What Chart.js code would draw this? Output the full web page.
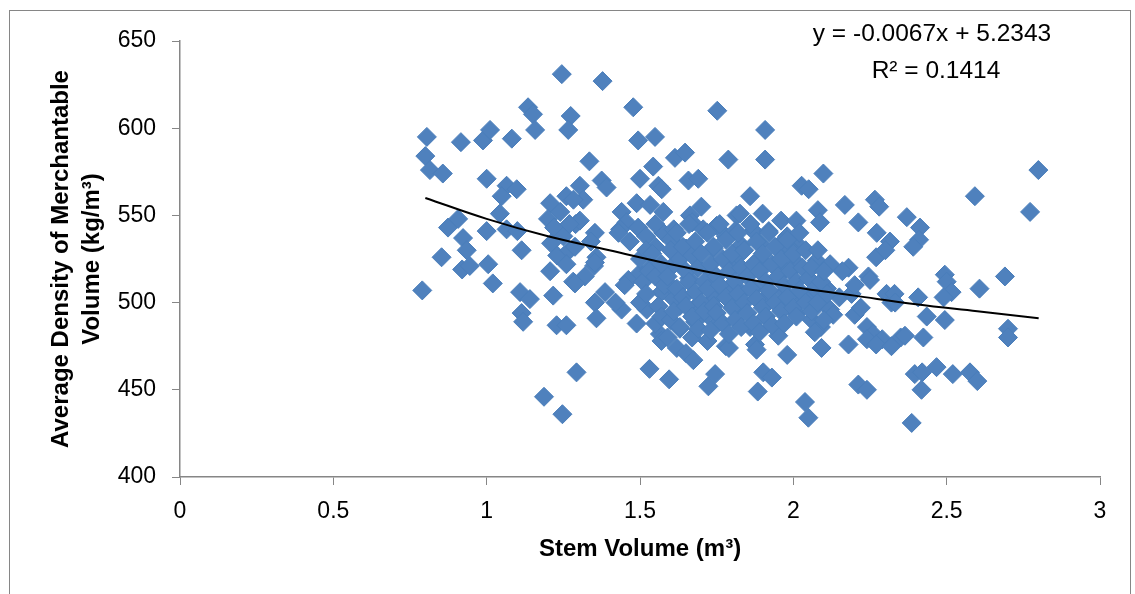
<!DOCTYPE html>
<html>
<head>
<meta charset="utf-8">
<script src="https://cdn.jsdelivr.net/npm/chart.js@4"></script>
<style>
  body { margin: 0; background: #fff; }
  #wrap { width: 1135px; height: 594px; }
</style>
</head>
<body>
<div id="wrap"><canvas id="scatterChart"></canvas></div>
<script>
// stem volume (m3) for each tree
const stemVolume = [
  0.79, 0.805, 0.80, 0.815, 0.857, 0.853, 0.874, 0.907, 0.916, 0.923, 0.935, 0.92, 0.945,
  0.988, 1.011, 1.082, 1.00, 1.065, 1.098, 1.049, 1.043, 1.00, 1.065, 1.10, 1.114, 1.005,
  1.02, 1.109, 1.141, 1.114, 1.119, 1.135, 1.151, 1.158, 1.187, 1.247, 1.245, 1.274, 1.266,
  1.207, 1.217, 1.228, 1.26, 1.282, 1.293, 1.207, 1.26, 1.20, 1.22, 1.24, 1.25, 1.21, 1.23,
  1.27, 1.29, 1.26,
  1.378, 1.478, 1.752, 1.494, 1.549, 1.788, 1.335, 1.614, 1.647, 1.543, 1.50, 1.56, 1.571,
  1.658, 1.69, 1.375, 1.391, 1.304, 1.315, 1.283, 1.489, 1.533, 1.576, 1.44, 1.456, 1.70,
  1.663, 1.67, 1.815, 1.304, 1.27, 1.353, 1.34, 1.435, 1.494, 1.52, 1.576, 1.61, 1.60, 1.706,
  1.75, 1.78, 1.467, 1.55, 1.288, 1.358, 1.35, 1.65, 1.74, 1.815,
  1.353, 1.32, 1.288, 1.386, 1.353, 1.358, 1.44, 1.462, 1.50, 1.53, 1.489, 1.522, 1.565,
  1.57, 1.57, 1.61, 1.63, 1.62, 1.65, 1.674, 1.531, 1.595, 1.723, 1.745, 1.72, 1.78, 1.72,
  1.76, 1.68, 1.63, 1.80, 1.75, 1.60, 1.66, 1.73, 1.80, 1.74, 1.69, 1.45, 1.42, 1.43,
  1.908, 1.908, 2.098, 2.027, 2.05, 1.859, 2.168, 2.266, 2.28, 2.08, 2.087, 2.212, 2.272,
  2.315, 2.37, 1.826, 1.90, 1.96, 2.01, 1.81, 1.87, 1.92, 1.98, 2.01, 1.96, 1.89, 1.83, 1.82,
  1.89, 1.97, 1.99, 2.076, 2.12, 2.18,
  1.88, 1.96, 2.01, 2.245, 2.304, 2.32, 1.83, 1.87, 1.91, 1.97, 2.02, 2.06, 2.11, 2.15, 2.19,
  1.81, 1.859, 1.91, 1.97, 2.01, 2.06, 2.09, 2.12, 2.13, 2.20, 2.24, 2.26, 2.29, 2.24, 1.875,
  1.88, 1.951, 1.98, 2.092, 2.18, 1.902, 1.93, 1.884, 2.212, 2.24, 2.038, 2.049, 1.79,
  2.16, 2.20, 2.22, 2.27, 2.35, 2.25, 2.27, 2.30,
  2.799, 2.592, 2.772, 2.413, 2.41, 2.391, 2.494, 2.50, 2.516, 2.49, 2.69, 2.607, 2.407,
  2.33, 2.332, 2.435, 2.494, 2.70, 2.70, 2.364, 2.424, 2.32, 2.396, 2.42, 2.418, 2.467,
  2.52, 2.576, 2.60, 2.386,
  1.50, 1.51, 1.50, 1.52, 1.53, 1.52, 1.55, 1.54, 1.55, 1.56, 1.55, 1.57, 1.58, 1.57,
  1.60, 1.59, 1.61, 1.60, 1.59, 1.62, 1.63, 1.62, 1.61, 1.64, 1.65, 1.64, 1.63,
  1.66, 1.67, 1.66, 1.65, 1.67, 1.68, 1.69, 1.68, 1.67, 1.70, 1.71, 1.70, 1.69,
  1.72, 1.73, 1.72, 1.71, 1.74, 1.75, 1.74, 1.73, 1.76, 1.77, 1.76, 1.75,
  1.78, 1.79, 1.78, 1.77, 1.80, 1.81, 1.80, 1.79, 1.82, 1.83, 1.82, 1.81,
  1.84, 1.85, 1.84, 1.83, 1.86, 1.87, 1.86, 1.85, 1.88, 1.89, 1.88, 1.87,
  1.90, 1.91, 1.90, 1.89, 1.92, 1.93, 1.92, 1.91, 1.94, 1.95, 1.94, 1.93,
  1.96, 1.97, 1.96, 1.98, 1.99, 1.98, 1.97, 2.00, 2.01, 2.00,
  2.02, 2.03, 2.02, 2.01, 2.04, 2.05, 2.04, 2.06, 2.07, 2.06, 2.08, 2.09, 2.08, 2.07,
  2.10, 2.11, 2.10
];
// average density of merchantable volume (kg/m3), same order
const density = [
  507, 595, 584, 576, 574, 526, 543, 548, 592, 537, 530, 519, 521,
  593, 599, 594, 571, 567, 565, 561, 551, 541, 542, 541, 530, 522,
  511, 506, 502, 494, 489, 612, 608, 599, 446, 436, 631, 607, 599,
  518, 504, 487, 487, 512, 460, 557, 561, 548, 543, 552, 538, 534, 527,
  530, 545, 522,
  627, 612, 610, 593, 595, 582, 581, 583, 586, 578, 571, 567, 565,
  570, 571, 570, 566, 567, 559, 559, 557, 556, 552, 552, 546, 555,
  550, 546, 550, 547, 545, 540, 535, 542, 543, 538, 540, 542, 536, 542,
  544, 538, 535, 532, 532, 526, 521, 531, 531, 522,
  523, 515, 511, 506, 500, 491, 496, 513, 517, 519, 488, 496, 482,
  478, 506, 508, 498, 474, 471, 467, 462, 456, 452, 459, 478, 475, 493,
  489, 489, 485, 510, 505, 520, 514, 518, 521, 502, 499, 510, 500, 540,
  599, 582, 574, 567, 565, 561, 556, 559, 555, 553, 546, 546, 540,
  535, 549, 551, 551, 547, 547, 541, 541, 541, 538, 534, 534, 534, 533, 527,
  525, 529, 531, 524, 522, 520,
  523, 521, 523, 515, 505, 500, 506, 508, 503, 506, 505, 503, 508, 503, 505,
  497, 486, 492, 497, 494, 490, 486, 496, 493, 493, 486, 482, 479, 479, 476,
  473, 481, 470, 474, 476, 460, 457, 449, 453, 450, 443, 434, 474,
  518, 510, 497, 476, 480, 513, 526, 530,
  576, 561, 552, 543, 536, 532, 516, 512, 506, 503, 515, 508, 503,
  505, 500, 492, 490, 485, 480, 481, 480, 475, 459, 460, 450, 463,
  459, 460, 455, 431,
  525, 512, 500, 530, 518, 505, 545, 528, 515, 498, 488, 522, 510, 492,
  530, 515, 502, 490, 480, 540, 525, 508, 495, 532, 518, 503, 486,
  545, 527, 512, 498, 480, 535, 520, 506, 492, 528, 512, 500, 485,
  540, 522, 508, 495, 532, 515, 498, 484, 545, 525, 510, 494,
  536, 518, 503, 488, 528, 512, 497, 482, 540, 520, 505, 490,
  530, 515, 500, 486, 545, 522, 508, 494, 535, 518, 502, 488,
  528, 512, 497, 483, 540, 522, 507, 492, 532, 515, 500, 487,
  525, 510, 495, 536, 518, 503, 488, 528, 512, 497,
  540, 520, 507, 492, 530, 514, 500, 520, 508, 495, 530, 512, 500, 483,
  518, 505, 490
];
// trend line
const trendX = [0.8, 1.0, 1.2, 1.4, 1.6, 1.8, 2.0, 2.2, 2.4, 2.6, 2.8];
const trendY = [560, 548, 538, 530, 522, 515, 509, 504, 499, 495, 491];

const trendLabel = "y = -0.0067x + 5.2343";
const r2Label = "R² = 0.1414";
const xTitle = "Stem Volume (m³)";
const yTitle = ["Average Density of Merchantable", "Volume (kg/m³)"];

const points = stemVolume.map((x, i) => ({ x: x, y: density[i] }));
const trend = trendX.map((x, i) => ({ x: x, y: trendY[i] }));

const axisGray = "#868686";
const fontFamily = "'Liberation Sans', Arial, sans-serif";

const framePlugin = {
  id: "frame",
  beforeDraw(chart) {
    const ctx = chart.ctx;
    ctx.save();
    ctx.fillStyle = "#fff";
    ctx.fillRect(0, 0, chart.width, chart.height);
    ctx.strokeStyle = axisGray;
    ctx.lineWidth = 1;
    ctx.strokeRect(9.5, 10.5, 1121, 700);
    ctx.restore();
  },
  afterDraw(chart) {
    const ctx = chart.ctx;
    ctx.save();
    ctx.fillStyle = "#000";
    ctx.font = "24.5px " + fontFamily;
    ctx.textAlign = "center";
    ctx.textBaseline = "middle";
    ctx.fillText(trendLabel, 932, 34);
    ctx.fillText(r2Label, 936, 71);
    ctx.restore();
  },
};

new Chart(document.getElementById("scatterChart"), {
  type: "scatter",
  data: {
    datasets: [
      {
        type: "line",
        data: trend,
        borderColor: "#000",
        borderWidth: 2,
        pointRadius: 0,
        tension: 0.4,
        fill: false,
        order: 0,
      },
      {
        data: points,
        pointStyle: "rectRot",
        pointRadius: 9.5,
        pointHoverRadius: 9.5,
        backgroundColor: "#4F81BD",
        borderColor: "#4A7EBB",
        borderWidth: 1,
        order: 1,
      },
    ],
  },
  options: {
    responsive: true,
    maintainAspectRatio: false,
    animation: false,
    layout: { padding: { top: 41, right: 35, left: 0, bottom: 0 } },
    plugins: {
      legend: { display: false },
      tooltip: { enabled: false },
    },
    scales: {
      x: {
        type: "linear",
        min: 0,
        max: 3,
        ticks: {
          stepSize: 0.5,
          color: "#000",
          padding: 13,
          font: { family: fontFamily, size: 23 },
          callback: (value) => String(value),
        },
        grid: { drawOnChartArea: false, tickLength: 8, color: axisGray },
        border: { color: axisGray, width: 1.5 },
        title: {
          display: true,
          text: xTitle,
          color: "#000",
          font: { family: fontFamily, size: 24, weight: "bold" },
          padding: { top: 0, bottom: 30 },
        },
        afterFit(scale) {
          scale.height = 117;
        },
      },
      y: {
        min: 400,
        max: 650,
        ticks: {
          stepSize: 50,
          color: "#000",
          padding: 16,
          font: { family: fontFamily, size: 23 },
        },
        grid: { drawOnChartArea: false, tickLength: 8, color: axisGray },
        border: { color: axisGray, width: 1.5 },
        title: {
          display: true,
          text: yTitle,
          color: "#000",
          font: { family: fontFamily, size: 24, weight: "bold", lineHeight: 1.3 },
          padding: { top: 46, bottom: 0 },
        },
        afterFit(scale) {
          scale.width = 180;
        },
      },
    },
  },
  plugins: [framePlugin],
});
</script>
</body>
</html>
